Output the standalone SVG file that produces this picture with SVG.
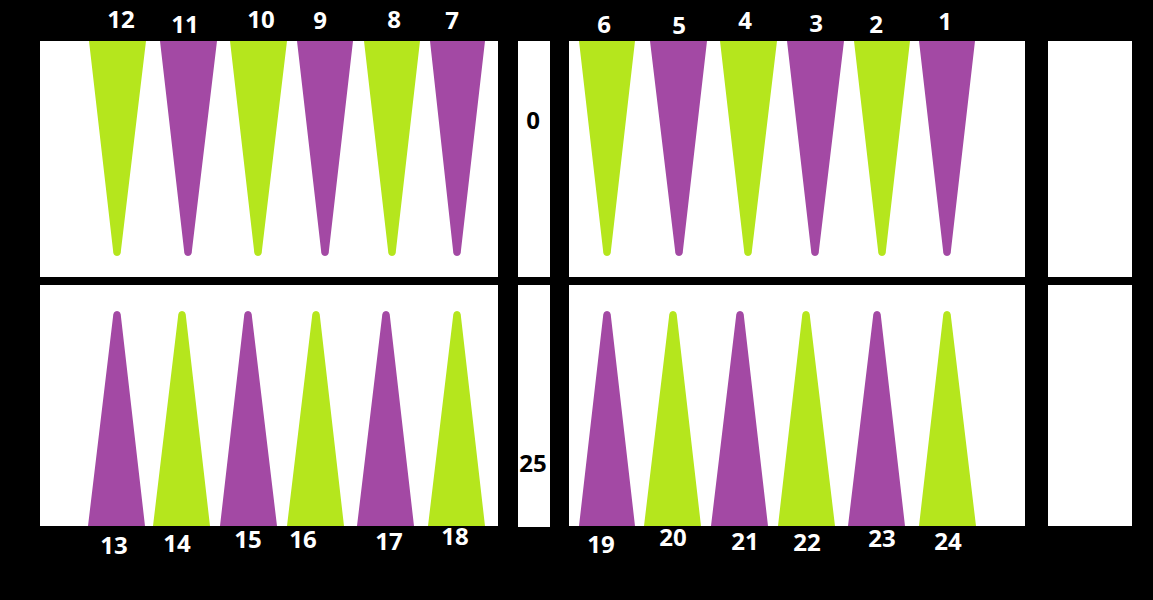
<svg xmlns="http://www.w3.org/2000/svg" width="1153" height="600" viewBox="0 0 1153 600">
<style>
.bg{fill:#000}
.w{fill:#fff}
.g{fill:#b5e61d}
.p{fill:#a349a4}
.lab{font-family:"Open Sans","Liberation Sans",sans-serif;font-weight:bold;font-size:24px;fill:#fff;text-anchor:middle}
.bar{font-family:"Open Sans","Liberation Sans",sans-serif;font-weight:bold;font-size:24px;fill:#000;text-anchor:middle}
</style>
<rect class="bg" x="0" y="0" width="1153" height="600"/>
<g id="board">
<rect class="w" x="40" y="41" width="458" height="236"/>
<rect class="w" x="40" y="285" width="458" height="241"/>
<rect class="w" x="518" y="41" width="32" height="236"/>
<rect class="w" x="518" y="285" width="32" height="242"/>
<rect class="w" x="569" y="41" width="456" height="236"/>
<rect class="w" x="569" y="285" width="456" height="241"/>
<rect class="w" x="1048" y="41" width="84" height="236"/>
<rect class="w" x="1048" y="285" width="84" height="241"/>
</g>
<g id="top-points">
<g id="p12"><path class="g" d="M89,41H146L121,250Q121,256 117,256Q113,256 113,250Z"/><text class="lab" x="121" y="28">12</text></g>
<g id="p11"><path class="p" d="M160,41H217L192,250Q192,256 188,256Q184,256 184,250Z"/><text class="lab" x="185" y="33">11</text></g>
<g id="p10"><path class="g" d="M230,41H287L262,250Q262,256 258,256Q254,256 254,250Z"/><text class="lab" x="261" y="28">10</text></g>
<g id="p9"><path class="p" d="M297,41H353L329,250Q329,256 325,256Q321,256 321,250Z"/><text class="lab" x="320" y="29">9</text></g>
<g id="p8"><path class="g" d="M364,41H420L396,250Q396,256 392,256Q388,256 388,250Z"/><text class="lab" x="394" y="28">8</text></g>
<g id="p7"><path class="p" d="M430,41H485L461,250Q461,256 457,256Q453,256 453,250Z"/><text class="lab" x="452" y="29">7</text></g>
<g id="p6"><path class="g" d="M579,41H635L611,250Q611,256 607,256Q603,256 603,250Z"/><text class="lab" x="604" y="33">6</text></g>
<g id="p5"><path class="p" d="M650,41H707L683,250Q683,256 679,256Q675,256 675,250Z"/><text class="lab" x="679" y="34">5</text></g>
<g id="p4"><path class="g" d="M720,41H777L752,250Q752,256 748,256Q744,256 744,250Z"/><text class="lab" x="745" y="29">4</text></g>
<g id="p3"><path class="p" d="M787,41H844L819,250Q819,256 815,256Q811,256 811,250Z"/><text class="lab" x="816" y="32">3</text></g>
<g id="p2"><path class="g" d="M854,41H910L886,250Q886,256 882,256Q878,256 878,250Z"/><text class="lab" x="876" y="33">2</text></g>
<g id="p1"><path class="p" d="M919,41H975L951,250Q951,256 947,256Q943,256 943,250Z"/><text class="lab" x="945" y="30">1</text></g>
</g>
<g id="bottom-points">
<g id="p13"><path class="p" d="M88,526H145L121,317Q121,311 117,311Q113,311 113,317Z"/><text class="lab" x="114" y="554">13</text></g>
<g id="p14"><path class="g" d="M153,526H210L186,317Q186,311 182,311Q178,311 178,317Z"/><text class="lab" x="177" y="552">14</text></g>
<g id="p15"><path class="p" d="M220,526H277L252,317Q252,311 248,311Q244,311 244,317Z"/><text class="lab" x="248" y="548">15</text></g>
<g id="p16"><path class="g" d="M287,526H344L320,317Q320,311 316,311Q312,311 312,317Z"/><text class="lab" x="303" y="548">16</text></g>
<g id="p17"><path class="p" d="M357,526H414L390,317Q390,311 386,311Q382,311 382,317Z"/><text class="lab" x="389" y="550">17</text></g>
<g id="p18"><path class="g" d="M428,526H485L461,317Q461,311 457,311Q453,311 453,317Z"/><text class="lab" x="455" y="545">18</text></g>
<g id="p19"><path class="p" d="M579,526H635L611,317Q611,311 607,311Q603,311 603,317Z"/><text class="lab" x="601" y="553">19</text></g>
<g id="p20"><path class="g" d="M644,526H701L677,317Q677,311 673,311Q669,311 669,317Z"/><text class="lab" x="673" y="546">20</text></g>
<g id="p21"><path class="p" d="M711,526H768L744,317Q744,311 740,311Q736,311 736,317Z"/><text class="lab" x="745" y="550">21</text></g>
<g id="p22"><path class="g" d="M778,526H835L810,317Q810,311 806,311Q802,311 802,317Z"/><text class="lab" x="807" y="551">22</text></g>
<g id="p23"><path class="p" d="M848,526H905L881,317Q881,311 877,311Q873,311 873,317Z"/><text class="lab" x="882" y="547">23</text></g>
<g id="p24"><path class="g" d="M919,526H976L951,317Q951,311 947,311Q943,311 943,317Z"/><text class="lab" x="948" y="550">24</text></g>
</g>
<g id="bar-labels">
<text class="bar" x="533" y="129">0</text>
<text class="bar" x="533" y="472">25</text>
</g>
<g id="connectors"/>
</svg>
